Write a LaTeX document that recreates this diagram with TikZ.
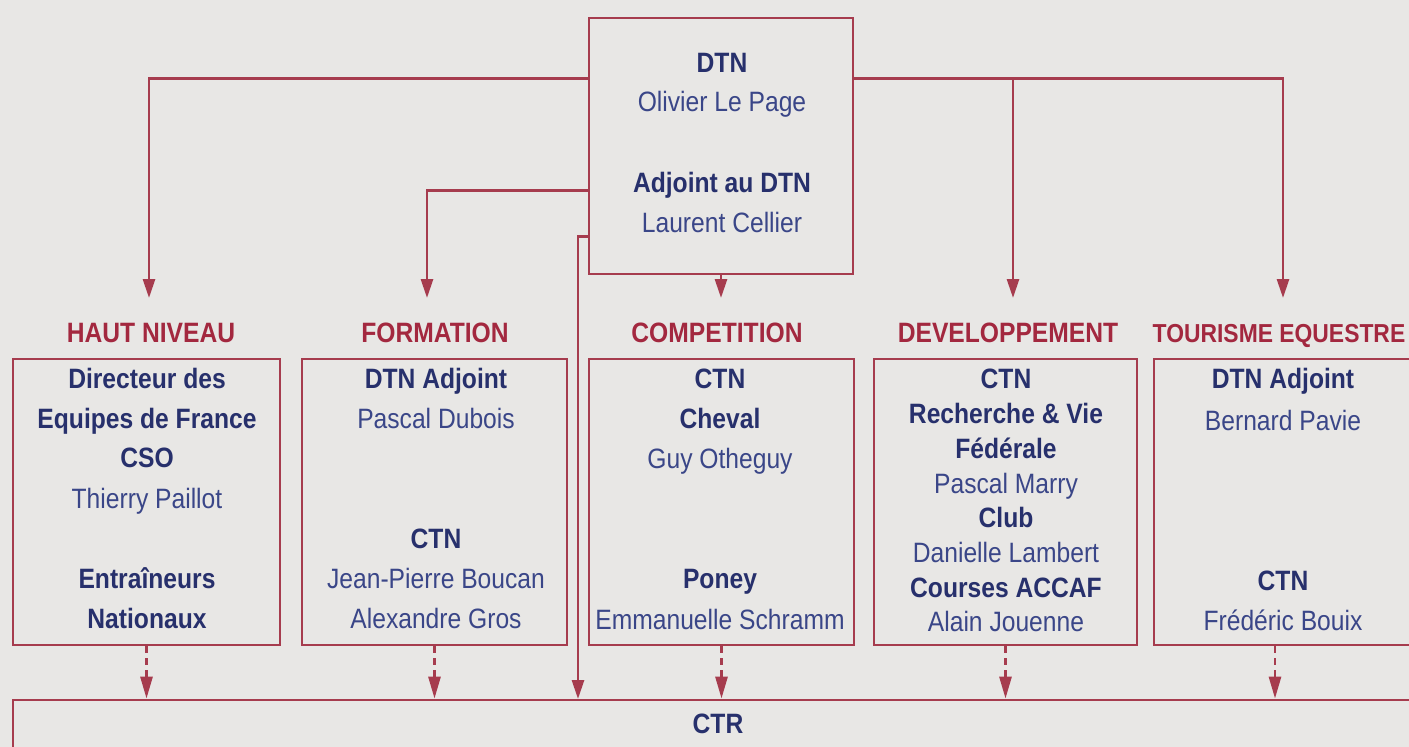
\documentclass[tikz,border=0pt]{standalone}
\usepackage{fontspec}
\setmainfont{Liberation Sans}[FakeStretch=0.88]
\usetikzlibrary{arrows.meta,calc}
\definecolor{bg}{HTML}{E8E7E5}
\definecolor{lred}{HTML}{A63C4E}
\definecolor{tred}{HTML}{A3283F}
\definecolor{navy}{HTML}{27306C}
\definecolor{navyl}{HTML}{3A4688}
\begin{document}
\begin{tikzpicture}[x=1pt,y=-1pt,
  conn/.style={draw=lred,line width=2.8pt},
  arr/.style={conn,-{Triangle[length=19pt,width=12pt]}},
  darr/.style={conn,dash pattern=on 7pt off 5pt,-{Triangle[length=22pt,width=12pt]}},
  box/.style={draw=lred,line width=2.8pt,inner sep=0pt,minimum height=286pt},
  bt/.style={font=\bfseries\fontsize{28}{32}\selectfont,text=navy,anchor=base,inner sep=0pt},
  nt/.style={font=\fontsize{28}{32}\selectfont,text=navyl,anchor=base,inner sep=0pt},
  lab/.style={font=\bfseries\fontsize{28}{30}\selectfont,text=tred,anchor=base,inner sep=0pt}]
\useasboundingbox (0,0) rectangle (1409,747);
\fill[bg] (0,0) rectangle (1409,747);

% boxes
\node[draw=lred,line width=2.8pt,inner sep=0pt,minimum width=264pt,minimum height=256pt] (dtn) at (721,146) {};
\node[box,minimum width=267pt] (hn) at (146.5,502) {};
\node[box,minimum width=265pt] (fo) at (434.5,502) {};
\node[box,minimum width=265pt] (co) at (721.5,502) {};
\node[box,minimum width=263pt] (de) at (1005.5,502) {};
\node[box,minimum width=260pt] (to) at (1284,502) {};
\node[draw=lred,line width=2.8pt,inner sep=0pt,minimum width=1427pt,minimum height=100pt] (ctr) at (726.5,750) {};

% arrow end points
\coordinate (t1) at (149,298);
\coordinate (t2) at (427,298);
\coordinate (t3) at (578,699);
\coordinate (t4) at (1013,298);
\coordinate (t5) at (1283,298);
\coordinate (t6) at (721,298);
\coordinate (j4) at (1013,80);

\draw[arr] ($(dtn.north west)+(0,62)$) -| (t1);
\draw[arr] ($(dtn.north west)+(0,174)$) -| (t2);
\draw[arr] ($(dtn.north west)+(0,220)$) -| (t3);
\draw[arr] ($(dtn.north east)+(0,62)$) -| (t5);
\draw[arr] (j4) -- (t4);
\draw[arr] (dtn.south) -- (t6);

% dashed arrows to CTR
\draw[darr] (hn.south) -- (hn.south |- ctr.north);
\draw[darr] (fo.south) -- (fo.south |- ctr.north);
\draw[darr] (co.south) -- (co.south |- ctr.north);
\draw[darr] (de.south) -- (de.south |- ctr.north);
\draw[darr] ($(to.south)+(-9,0)$) -- ($(to.south |- ctr.north)+(-9,0)$);

% labels
\node[lab] (lhn) at (151,342) {HAUT NIVEAU};
\node[lab] (lfo) at (435,342) {FORMATION};
\node[lab] (lco) at (717,342) {COMPETITION};
\node[lab] (lde) at (1008,342) {DEVELOPPEMENT};
\node[lab,font=\bfseries\fontsize{26}{30}\selectfont] (lto) at (1279,342) {TOURISME EQUESTRE};

% DTN
\node[bt] (d1) at (722,72) {DTN};
\node[nt] (d2) at (722,111) {Olivier Le Page};
\node[bt] (d3) at (722,192) {Adjoint au DTN};
\node[nt] (d4) at (722,232) {Laurent Cellier};

% Haut niveau
\node[bt] (h1) at (147,388) {Directeur des};
\node[bt] (h2) at (147,428) {Equipes de France};
\node[bt] (h3) at (147,467) {CSO};
\node[nt] (h4) at (147,508) {Thierry Paillot};
\node[bt] (h5) at (147,588) {Entraîneurs};
\node[bt] (h6) at (147,628) {Nationaux};

% Formation
\node[bt] (f1) at (436,388) {DTN Adjoint};
\node[nt] (f2) at (436,428) {Pascal Dubois};
\node[bt] (f3) at (436,548) {CTN};
\node[nt] (f4) at (436,588) {Jean-Pierre Boucan};
\node[nt] (f5) at (436,628) {Alexandre Gros};

% Competition
\node[bt] (c1) at (720,388) {CTN};
\node[bt] (c2) at (720,428) {Cheval};
\node[nt] (c3) at (720,468) {Guy Otheguy};
\node[bt] (c4) at (720,588) {Poney};
\node[nt] (c5) at (720,629) {Emmanuelle Schramm};

% Developpement
\node[bt] (e1) at (1006,388) {CTN};
\node[bt] (e2) at (1006,423) {Recherche \& Vie};
\node[bt] (e3) at (1006,458) {Fédérale};
\node[nt] (e4) at (1006,493) {Pascal Marry};
\node[bt] (e5) at (1006,527) {Club};
\node[nt] (e6) at (1006,562) {Danielle Lambert};
\node[bt] (e7) at (1006,597) {Courses ACCAF};
\node[nt] (e8) at (1006,631) {Alain Jouenne};

% Tourisme
\node[bt] (o1) at (1283,388) {DTN Adjoint};
\node[nt] (o2) at (1283,430) {Bernard Pavie};
\node[bt] (o3) at (1283,590) {CTN};
\node[nt] (o4) at (1283,630) {Frédéric Bouix};

% CTR
\node[bt] (r1) at (718,733) {CTR};
\end{tikzpicture}
\end{document}
